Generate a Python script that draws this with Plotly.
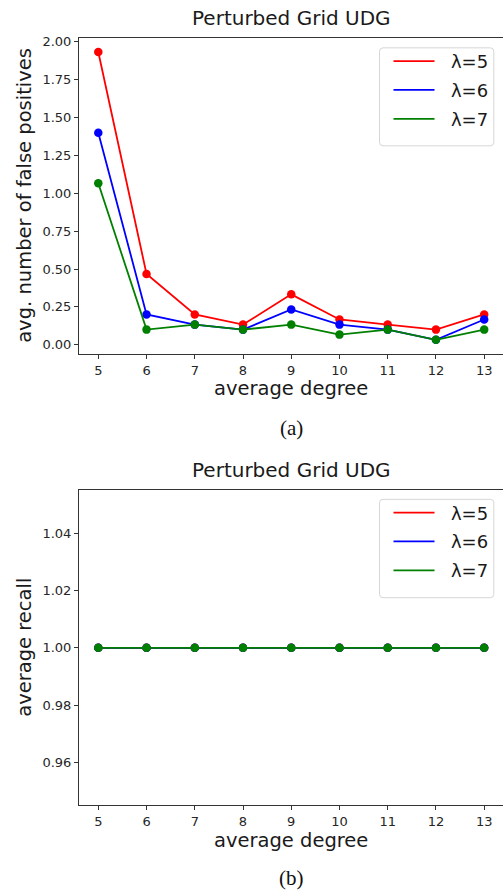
import plotly.graph_objects as go

# ---------------- data ----------------
degrees = [5, 6, 7, 8, 9, 10, 11, 12, 13]
series_names = ["λ=5", "λ=6", "λ=7"]
series_colors = ["#ff0000", "#0000ff", "#008000"]

fp_lambda5 = [1.933, 0.467, 0.200, 0.133, 0.333, 0.167, 0.133, 0.100, 0.200]
fp_lambda6 = [1.400, 0.200, 0.133, 0.100, 0.233, 0.133, 0.100, 0.033, 0.167]
fp_lambda7 = [1.067, 0.100, 0.133, 0.100, 0.133, 0.067, 0.100, 0.033, 0.100]

recall_lambda5 = [1.0, 1.0, 1.0, 1.0, 1.0, 1.0, 1.0, 1.0, 1.0]
recall_lambda6 = [1.0, 1.0, 1.0, 1.0, 1.0, 1.0, 1.0, 1.0, 1.0]
recall_lambda7 = [1.0, 1.0, 1.0, 1.0, 1.0, 1.0, 1.0, 1.0, 1.0]

fp_ticks = [0.0, 0.25, 0.5, 0.75, 1.0, 1.25, 1.5, 1.75, 2.0]
recall_ticks = [0.96, 0.98, 1.00, 1.02, 1.04]

chart_title = "Perturbed Grid UDG"
x_label = "average degree"
y_label_top = "avg. number of false positives"
y_label_bottom = "average recall"
captions = ["(a)", "(b)"]

# ---------------- figure ----------------
W, H = 503, 892
FONT = "DejaVu Sans"
TXT = "#1a1a1a"
PAD = "\u00a0\u00a0"

fig = go.Figure()

def add_panel(values_list, xa, ya, legend_name):
    for name, color, vals in zip(series_names, series_colors, values_list):
        fig.add_trace(go.Scatter(
            x=degrees, y=vals, mode="lines", name=PAD + name,
            line=dict(color=color, width=1.8),
            xaxis=xa, yaxis=ya, legend=legend_name, showlegend=True,
            legendgroup=legend_name + name,
        ))
        fig.add_trace(go.Scatter(
            x=degrees, y=vals, mode="markers", name=name,
            marker=dict(color=color, size=8.5, line=dict(width=0)),
            xaxis=xa, yaxis=ya, showlegend=False,
        ))

add_panel([fp_lambda5, fp_lambda6, fp_lambda7], "x", "y", "legend")
add_panel([recall_lambda5, recall_lambda6, recall_lambda7], "x2", "y2", "legend2")

def px_(p):
    return p / W

def py(p):
    return 1 - p / H

x_dom = [79 / W, 1.0]
axis_common = dict(
    showline=True, linecolor="#333333", linewidth=1,
    ticks="outside", ticklen=4, tickwidth=1, tickcolor="#333333",
    showgrid=False, zeroline=False,
    tickfont=dict(family=FONT, size=13, color="#262626"),
)

legend_common = dict(
    xanchor="right", yanchor="top",
    bgcolor="rgba(0,0,0,0)", borderwidth=0,
    font=dict(family=FONT, size=18, color=TXT), itemwidth=41,
    tracegroupgap=2.5,
)

fig.update_layout(
    width=W, height=H,
    margin=dict(l=0, r=0, t=0, b=0),
    paper_bgcolor="white", plot_bgcolor="white",
    xaxis=dict(domain=x_dom, anchor="y", range=[4.6, 13.39], tickvals=degrees,
               mirror=True, **axis_common),
    yaxis=dict(domain=[py(352.3), py(34.7)], anchor="x", range=[-0.0617, 2.0283],
               tickvals=fp_ticks, tickformat=".2f", **axis_common),
    xaxis2=dict(domain=x_dom, anchor="y2", range=[4.6, 13.39], tickvals=degrees,
                mirror=True, **axis_common),
    yaxis2=dict(domain=[py(805), py(489)], anchor="x2", range=[0.945, 1.055],
                tickvals=recall_ticks, tickformat=".2f", **axis_common),
    legend=dict(x=493.5 / W, y=py(40), **legend_common),
    legend2=dict(x=493.5 / W, y=py(493), **legend_common),
    showlegend=True,
)

# rounded legend frames (matplotlib style)
def rounded_rect(x0, y0, x1, y1, r=3.5):
    X = lambda v: px_(v)
    Y = lambda v: py(v)
    return (f"M {X(x0+r)},{Y(y0)} L {X(x1-r)},{Y(y0)} Q {X(x1)},{Y(y0)} {X(x1)},{Y(y0+r)} "
            f"L {X(x1)},{Y(y1-r)} Q {X(x1)},{Y(y1)} {X(x1-r)},{Y(y1)} "
            f"L {X(x0+r)},{Y(y1)} Q {X(x0)},{Y(y1)} {X(x0)},{Y(y1-r)} "
            f"L {X(x0)},{Y(y0+r)} Q {X(x0)},{Y(y0)} {X(x0+r)},{Y(y0)} Z")

shapes = []
for (y0, y1) in [(45, 143.3), (498, 596.7)]:
    shapes.append(dict(type="path", path=rounded_rect(379.5, y0, 493.8, y1),
                       xref="paper", yref="paper", layer="above",
                       fillcolor="rgba(255,255,255,0.8)",
                       line=dict(color="#d6d6d6", width=1)))
fig.update_layout(shapes=shapes)

ann = []
cx = 291 / W
for top_px, xl_px, yl_px, ylab, cap_px, cap in [
    (15, 387, 193.5, y_label_top, 426, captions[0]),
    (469, 840, 647, y_label_bottom, 878, captions[1]),
]:
    ann.append(dict(text=chart_title, x=cx, y=py(top_px), xref="paper", yref="paper",
                    xanchor="center", yanchor="middle", showarrow=False,
                    font=dict(family=FONT, size=20, color=TXT)))
    ann.append(dict(text=x_label, x=cx, y=py(xl_px), xref="paper", yref="paper",
                    xanchor="center", yanchor="middle", showarrow=False,
                    font=dict(family=FONT, size=19.5, color=TXT)))
    ann.append(dict(text=ylab, x=25 / W, y=py(yl_px), xref="paper", yref="paper",
                    xanchor="center", yanchor="middle", showarrow=False, textangle=-90,
                    font=dict(family=FONT, size=19.5, color=TXT)))
    ann.append(dict(text=cap, x=cx, y=py(cap_px), xref="paper", yref="paper",
                    xanchor="center", yanchor="middle", showarrow=False,
                    font=dict(family="Liberation Serif", size=21, color="#111111")))
fig.update_layout(annotations=ann)

fig.write_html("out.html",
               config={"displayModeBar": False},
               post_script="document.body.style.margin='0';document.body.style.overflow='hidden';")
